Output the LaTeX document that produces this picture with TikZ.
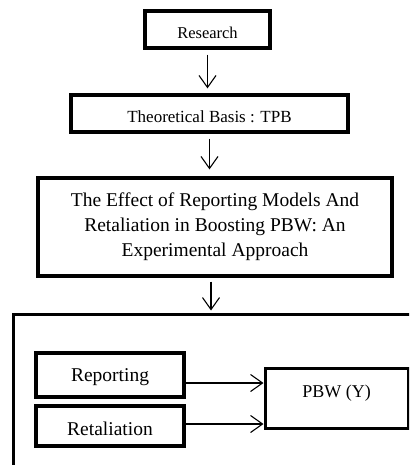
\documentclass[tikz,border=0pt]{standalone}
\usepackage{fontspec}
\setmainfont{Liberation Serif}
\usetikzlibrary{arrows.meta}

\begin{document}
\begin{tikzpicture}[
  x=1pt,
  y=-1pt,
  box/.style={
    draw,
    line width=3.2pt,
    inner sep=0pt,
    align=center
  },
  arr/.style={
    line width=1.1pt,
    -{Straight Barb[length=12pt,width=17pt,line width=1.1pt]}
  },
]
\clip (0,0) rectangle (409,465);
\node[box, minimum width=125, minimum height=37, text height=18pt, text depth=0pt, font=\fontsize{16.5}{18}\selectfont] (research) at (207.5,29.5) {Research};
\node[box, minimum width=277, minimum height=37, text height=18.5pt, text depth=0pt, font=\fontsize{17}{18}\selectfont] (basis) at (209.5,113.5) {Theoretical Basis : TPB};
\node[box, minimum width=354, minimum height=98, font=\fontsize{19.5}{25}\selectfont] (title) at (215,227)
  {The Effect of Reporting Models And\\Retaliation in Boosting PBW: An\\Experimental Approach};
\node[box, line width=3pt, minimum width=420, minimum height=180] (frame) at (223.5,404) {};
\node[box, minimum width=148, minimum height=44, text height=17.5pt, text depth=4.2pt, font=\fontsize{19.5}{22}\selectfont] (reporting) at (110,375) {Reporting};
\node[box, minimum width=148, minimum height=40, text height=19.5pt, text depth=0pt, font=\fontsize{19.5}{22}\selectfont] (retaliation) at (110,426) {Retaliation};
\node[box, line width=3pt, minimum width=143, minimum height=60, text height=12.3pt, text depth=13pt, font=\fontsize{18}{20}\selectfont] (pbw) at (336.5,398) {PBW (Y)};

\draw[arr, shorten <=5pt, shorten >=5pt] (research) -- (research |- basis.north);
\draw[arr, shorten <=5pt, shorten >=7pt] (basis) -- (basis |- title.north);
\draw[arr, shorten <=4pt, shorten >=2pt] ([xshift=-4pt]title.south) -- ([xshift=-4pt]title.south |- frame.north);
\coordinate (rep) at ([yshift=-8pt]reporting.east);
\draw[arr] (rep) -- (rep -| pbw.west);
\draw[arr] ([yshift=2pt]retaliation.east) -- ([yshift=2pt]retaliation.east -| pbw.west);
\end{tikzpicture}
\end{document}
